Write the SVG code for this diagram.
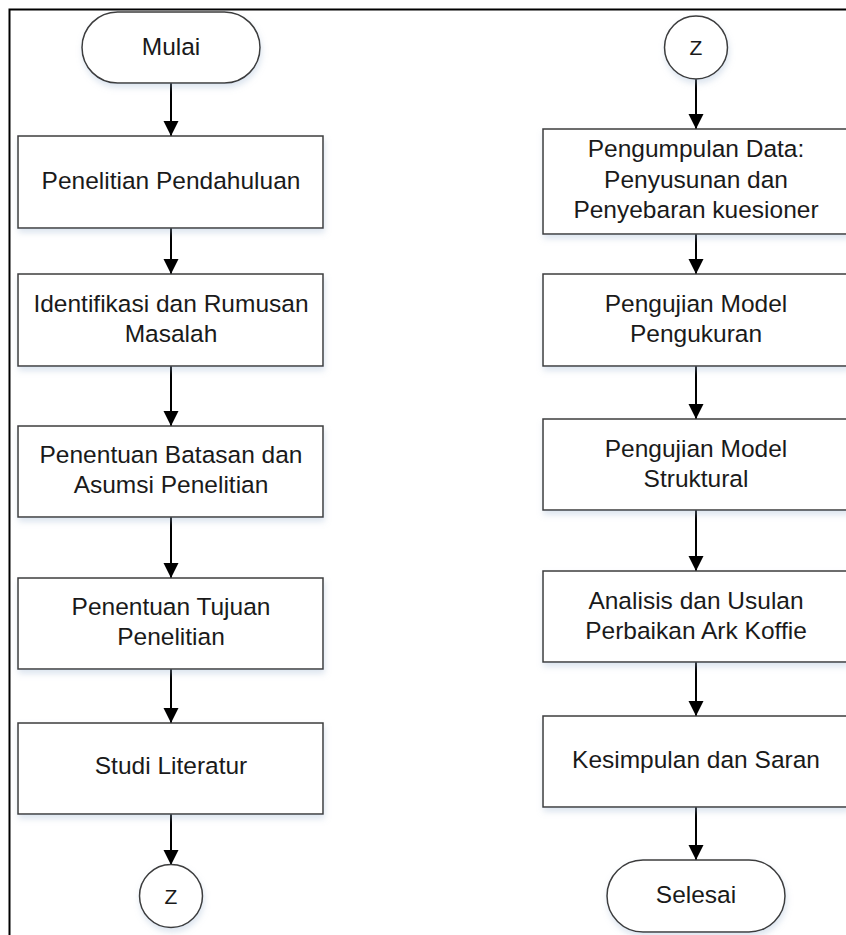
<svg xmlns="http://www.w3.org/2000/svg" width="846" height="935" viewBox="0 0 846 935">
<defs>
<style>
.box{fill:#ffffff;stroke:#3c3c3c;stroke-width:1.5}
.shadow{filter:url(#sh)}
.t{font-family:"Liberation Sans",Arial,sans-serif;font-size:24.5px;fill:#1a1a1a;text-anchor:middle}
.z{font-family:"Liberation Sans",Arial,sans-serif;font-size:21px;fill:#1a1a1a;text-anchor:middle}
.c{stroke:#000;stroke-width:2;fill:none;marker-end:url(#ah)}
</style>
<marker id="ah" viewBox="0 0 16 17" refX="16" refY="8" markerWidth="17" markerHeight="16" markerUnits="userSpaceOnUse" orient="auto">
<path d="M0,0 L16,8 L0,16 Z" fill="#000"/>
</marker>
<filter id="sh" x="-10%" y="-10%" width="130%" height="140%">
<feDropShadow dx="1" dy="4" stdDeviation="3" flood-color="#9ab4d0" flood-opacity="0.35"/>
</filter>
</defs>
<rect x="0" y="0" width="846" height="935" fill="#ffffff"/>
<path d="M9.5,935 L9.5,9.5 L846,9.5" fill="none" stroke="#000" stroke-width="2"/>

<g id="connectors">
<line class="c" x1="171" y1="83" x2="171" y2="136"/>
<line class="c" x1="171" y1="228" x2="171" y2="274"/>
<line class="c" x1="171" y1="366" x2="171" y2="426"/>
<line class="c" x1="171" y1="517" x2="171" y2="578"/>
<line class="c" x1="171" y1="669" x2="171" y2="723"/>
<line class="c" x1="171" y1="814" x2="171" y2="865"/>
<line class="c" x1="696" y1="79" x2="696" y2="129"/>
<line class="c" x1="696" y1="234" x2="696" y2="274"/>
<line class="c" x1="696" y1="366" x2="696" y2="419"/>
<line class="c" x1="696" y1="510" x2="696" y2="571"/>
<line class="c" x1="696" y1="662" x2="696" y2="716"/>
<line class="c" x1="696" y1="807" x2="696" y2="860"/>
</g>

<g id="mulai">
<rect class="box shadow" x="82" y="12" width="178" height="71" rx="35.5" ry="35.5"/>
<text class="t" x="171" y="55">Mulai</text>
</g>
<g id="penelitian-pendahuluan">
<rect class="box shadow" x="18" y="136" width="305" height="92"/>
<text class="t" x="171" y="189">Penelitian Pendahuluan</text>
</g>
<g id="identifikasi">
<rect class="box shadow" x="18" y="274" width="305" height="92"/>
<text class="t" x="171" y="312">Identifikasi dan Rumusan</text>
<text class="t" x="171" y="342">Masalah</text>
</g>
<g id="batasan">
<rect class="box shadow" x="18" y="426" width="305" height="91"/>
<text class="t" x="171" y="463">Penentuan Batasan dan</text>
<text class="t" x="171" y="493">Asumsi Penelitian</text>
</g>
<g id="tujuan">
<rect class="box shadow" x="18" y="578" width="305" height="91"/>
<text class="t" x="171" y="615">Penentuan Tujuan</text>
<text class="t" x="171" y="645">Penelitian</text>
</g>
<g id="studi">
<rect class="box shadow" x="18" y="723" width="305" height="91"/>
<text class="t" x="171" y="774">Studi Literatur</text>
</g>
<g id="z-out">
<circle class="box shadow" cx="171" cy="896" r="31.5"/>
<text class="z" x="171" y="904">Z</text>
</g>

<g id="z-in">
<circle class="box shadow" cx="696" cy="47.5" r="31.5"/>
<text class="z" x="696" y="55">Z</text>
</g>
<g id="pengumpulan">
<rect class="box shadow" x="543" y="129" width="305" height="105"/>
<text class="t" x="696" y="157">Pengumpulan Data:</text>
<text class="t" x="696" y="188">Penyusunan dan</text>
<text class="t" x="696" y="218">Penyebaran kuesioner</text>
</g>
<g id="pengukuran">
<rect class="box shadow" x="543" y="274" width="305" height="92"/>
<text class="t" x="696" y="312">Pengujian Model</text>
<text class="t" x="696" y="342">Pengukuran</text>
</g>
<g id="struktural">
<rect class="box shadow" x="543" y="419" width="305" height="91"/>
<text class="t" x="696" y="457">Pengujian Model</text>
<text class="t" x="696" y="487">Struktural</text>
</g>
<g id="analisis">
<rect class="box shadow" x="543" y="571" width="305" height="91"/>
<text class="t" x="696" y="609">Analisis dan Usulan</text>
<text class="t" x="696" y="639">Perbaikan Ark Koffie</text>
</g>
<g id="kesimpulan">
<rect class="box shadow" x="543" y="716" width="305" height="91"/>
<text class="t" x="696" y="768">Kesimpulan dan Saran</text>
</g>
<g id="selesai">
<rect class="box shadow" x="607" y="860" width="178" height="72" rx="36" ry="36"/>
<text class="t" x="696" y="903">Selesai</text>
</g>
</svg>
